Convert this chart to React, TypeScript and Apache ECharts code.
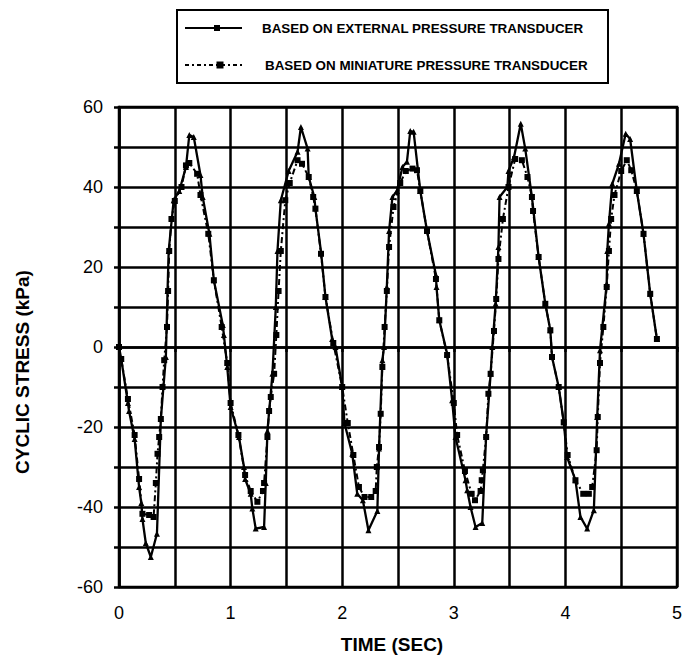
import React, { useEffect, useRef } from "react";
import * as echarts from "echarts";

const extTime = [0.00,0.02,0.08,0.09,0.14,0.18,0.20,0.21,0.24,0.285,0.34,0.375,0.42,0.435,0.445,0.49,0.54,0.60,0.63,0.67,0.73,0.75,0.81,0.85,0.93,0.94,0.97,
1.00,1.075,1.12,1.13,1.18,1.195,1.225,1.30,1.315,1.33,1.375,1.405,1.42,1.45,1.52,1.60,1.63,1.69,1.70,1.75,1.76,1.81,1.85,1.91,1.94,
2.00,2.02,2.09,2.135,2.185,2.235,2.315,2.33,2.36,2.375,2.40,2.42,2.45,2.49,2.54,2.58,2.61,2.64,2.70,2.76,2.84,2.845,2.87,2.94,
2.985,3.015,3.105,3.12,3.15,3.195,3.255,3.29,3.33,3.345,3.375,3.40,3.41,3.48,3.49,3.54,3.60,3.64,3.70,3.76,3.82,3.865,3.88,
3.94,3.985,4.015,4.09,4.135,4.195,4.255,4.285,4.31,4.37,4.375,4.39,4.42,4.48,4.54,4.58,4.64,4.70,4.76,4.82];
const extStress = [0,-3,-14,-16,-23,-35,-39,-43,-49,-52.5,-46.7,-18,-2.5,14,24,36.7,39,45,53,52.5,43,37.5,28.3,16.7,5.5,3,-5,
-15,-22.5,-30,-33,-36.7,-40.4,-45.4,-45,-34,-21,-6.7,10,24,36.7,44,48.8,55,49.6,42.5,37.5,34.6,23.8,12.5,2,0,
-10,-19,-26.7,-36.7,-38.3,-45.8,-41,-25.4,-3.3,0,15,29,37.5,39,45,46.3,54,53.8,39,29,18,15,6.7,-1.7,
-13.3,-22.5,-33.3,-35.8,-40,-45,-44,-22,-6.7,0,10.8,25,37.5,40,44,47.5,55.8,49.6,37.5,22.5,10.8,4.2,-2.5,
-10,-18.8,-27.5,-33.3,-42.5,-45.4,-40.8,-17.5,-0.8,15.8,24,30.8,40.8,45.8,53.3,52,39,28.3,13.3,2];

const miniTime = [0.00,0.02,0.08,0.14,0.18,0.21,0.27,0.31,0.33,0.345,0.36,0.375,0.39,0.405,0.43,0.44,0.45,0.47,0.50,0.56,0.60,0.63,0.70,0.73,0.80,0.85,0.92,0.97,
1.00,1.07,1.13,1.18,1.24,1.29,1.30,1.33,1.345,1.36,1.39,1.41,1.43,1.45,1.49,1.53,1.60,1.64,1.70,1.74,1.76,1.81,1.85,1.92,
2.00,2.05,2.10,2.15,2.20,2.26,2.30,2.31,2.33,2.345,2.36,2.38,2.40,2.42,2.46,2.52,2.57,2.63,2.67,2.70,2.76,2.84,2.87,2.94,
3.00,3.03,3.10,3.16,3.19,3.24,3.25,3.26,3.29,3.31,3.33,3.36,3.38,3.40,3.44,3.49,3.55,3.61,3.66,3.70,3.71,3.76,3.82,3.865,3.88,
3.94,3.985,4.02,4.09,4.16,4.21,4.24,4.28,4.29,4.31,4.34,4.37,4.39,4.41,4.44,4.50,4.55,4.59,4.64,4.70,4.76,4.82];
const miniStress = [0,-3,-13,-22,-33,-41.7,-42,-42.5,-34,-26.7,-22.5,-18,-10,-3.3,5,14,24,32,36.5,40,45.4,46,43.3,38,28.3,16.7,5,-4,
-14,-22,-32,-36,-38.7,-36,-34,-22.5,-16,-12.5,-6.7,3,14,24,36.7,41,46.7,45.8,42.5,37.5,34.6,23.3,12.5,1,
-10,-19,-27,-35,-37.5,-37.5,-36,-30,-25,-16.7,-5,5,14,25,35,41,44,44.6,44.2,39,29,17,6.7,-2,
-14,-22,-31,-36.7,-38.3,-36,-33.3,-30.8,-22.5,-11.7,-6.7,4,12,22,32,40,47,46.7,42.5,37.5,34,22.5,10.8,4.2,-2.5,
-10,-18.8,-27,-33.3,-36.7,-36.7,-35,-25.8,-17.5,-4,5,15,24,32,38,44,46.7,44.2,39,28.3,13.3,2];

const seriesNames = ["BASED ON EXTERNAL PRESSURE TRANSDUCER", "BASED ON MINIATURE PRESSURE TRANSDUCER"];
const xTitle = "TIME (SEC)";
const yTitle = "CYCLIC STRESS (kPa)";

const FONT = "'Liberation Sans', Arial, Helvetica, sans-serif";
const INK = "#000";

export default function App() {
  const ref = useRef<HTMLDivElement>(null);
  useEffect(() => {
    if (!ref.current) return;
    const chart = echarts.init(ref.current, undefined, { renderer: "svg" });
    const ext = extTime.map((t, i) => [t, extStress[i]]);
    const mini = miniTime.map((t, i) => [t, miniStress[i]]);
    const axisCommon = {
      axisLine: { show: true, lineStyle: { color: INK, width: 2.5 } },
      axisTick: { show: true, length: 5, lineStyle: { color: INK, width: 2.5 } },
      minorTick: { show: true, splitNumber: 2, length: 5, lineStyle: { color: INK, width: 2.5 } },
      splitLine: { show: true, lineStyle: { color: INK, width: 2.5 } },
      minorSplitLine: { show: true, lineStyle: { color: INK, width: 2.5 } },
      axisLabel: { color: INK, fontFamily: FONT, fontSize: 18 },
    };
    chart.setOption({
      animation: false,
      backgroundColor: "#fff",
      grid: { left: 119, right: 21, top: 107, bottom: 69, containLabel: false, show: true, borderColor: INK, borderWidth: 2.5 },
      xAxis: {
        type: "value", min: 0, max: 5, interval: 1,
        ...axisCommon,
        axisLabel: { ...axisCommon.axisLabel, margin: 17 },
      },
      yAxis: {
        type: "value", min: -60, max: 60, interval: 20,
        ...axisCommon,
        axisLabel: { ...axisCommon.axisLabel, margin: 16 },
      },
      series: [
        {
          name: seriesNames[0], type: "line", data: ext,
          symbol: "triangle", symbolSize: 6, showSymbol: true,
          lineStyle: { color: INK, width: 2.3 },
          itemStyle: { color: INK },
        },
        {
          name: seriesNames[1], type: "line", data: mini,
          symbol: "rect", symbolSize: 6, showSymbol: true,
          lineStyle: { color: INK, width: 2, type: [6, 3, 2, 3] },
          itemStyle: { color: INK },
        },
      ],
      graphic: [
        { type: "rect", shape: { x: 177, y: 10, width: 431, height: 73 }, style: { fill: "#fff", stroke: INK, lineWidth: 2 } },
        { type: "line", shape: { x1: 185, y1: 28, x2: 242, y2: 28 }, style: { stroke: INK, lineWidth: 2.2 } },
        { type: "rect", shape: { x: 214, y: 25, width: 6, height: 6 }, style: { fill: INK } },
        { type: "line", shape: { x1: 185, y1: 65, x2: 245, y2: 65 }, style: { stroke: INK, lineWidth: 2.2, lineDash: [4, 3, 2, 3] } },
        { type: "rect", shape: { x: 216.5, y: 61.5, width: 7, height: 7 }, style: { fill: INK } },
        { type: "text", x: 262, y: 28, style: { text: seriesNames[0], font: `bold 13.4px ${FONT}`, fill: INK, textVerticalAlign: "middle" } },
        { type: "text", x: 265, y: 65, style: { text: seriesNames[1], font: `bold 13.4px ${FONT}`, fill: INK, textVerticalAlign: "middle" } },
        { type: "text", x: 392, y: 644, style: { text: xTitle, font: `bold 19px ${FONT}`, fill: INK, textAlign: "center", textVerticalAlign: "middle" } },
        { type: "text", x: 22, y: 372, rotation: Math.PI / 2, style: { text: yTitle, font: `bold 19px ${FONT}`, fill: INK, textAlign: "center", textVerticalAlign: "middle" } },
      ],
    });
    return () => chart.dispose();
  }, []);
  return <div ref={ref} style={{ position: "fixed", left: 0, top: 0, width: 698, height: 656, background: "#fff" }} />;
}
